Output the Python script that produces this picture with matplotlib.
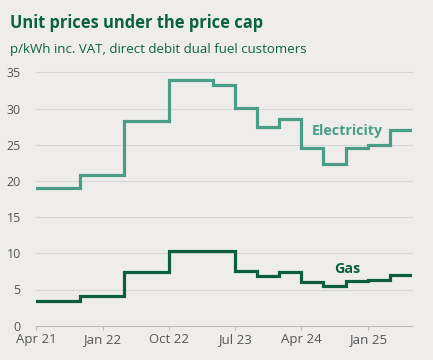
import matplotlib
matplotlib.use("Agg")
import matplotlib.pyplot as plt
import matplotlib.dates as mdates
import numpy as np
import datetime as dt

dates = ["2021-04-01", "2021-10-01", "2022-04-01", "2022-10-01", "2023-04-01",
         "2023-07-01", "2023-10-01", "2024-01-01", "2024-04-01", "2024-07-01",
         "2024-10-01", "2024-12-31", "2025-04-01"]
end_date = "2025-07-01"
electricity = [19.0, 20.8, 28.3, 34.0, 33.2, 30.1, 27.4, 28.6, 24.5, 22.4, 24.5, 24.9, 27.0]
gas = [3.4, 4.1, 7.4, 10.3, 10.3, 7.5, 6.9, 7.4, 6.0, 5.5, 6.2, 6.3, 7.0]
tick_dates = ["2021-04-01", "2022-01-01", "2022-10-01", "2023-07-01", "2024-04-01", "2025-01-01"]
tick_labels = ["Apr 21", "Jan 22", "Oct 22", "Jul 23", "Apr 24", "Jan 25"]
yticks = [0, 5, 10, 15, 20, 25, 30, 35]

bg = "#efedeb"
elec_c = "#4a9e88"
gas_c = "#0b5f3e"
title_c = "#0b6241"
text_c = "#555555"
grid_c = "#d9d7d5"

def d(s):
    return dt.datetime.strptime(s, "%Y-%m-%d")

xs = [d(s) for s in dates] + [d(end_date)]
ev = electricity + [electricity[-1]]
gv = gas + [gas[-1]]

fig = plt.figure(figsize=(4.33, 3.6), dpi=100, facecolor=bg)
W, H = 433, 360
left, right, bottom, top = 36, 411.7, 325.7, 72.3
ax = fig.add_axes([left / W, (H - bottom) / H, (right - left) / W, (bottom - top) / H])
ax.set_facecolor(bg)

ax.step(xs, ev, where="post", color=elec_c, lw=2.3, solid_joinstyle="miter", zorder=3)
ax.step(xs, gv, where="post", color=gas_c, lw=2.3, solid_joinstyle="miter", zorder=3)

ax.set_xlim(d("2021-04-01"), d(end_date))
ax.set_ylim(0, 35)
ax.set_yticks(yticks)
ax.set_yticklabels([str(v) for v in yticks])
ax.set_xticks([d(s) for s in tick_dates])
ax.set_xticklabels(tick_labels)

for v in yticks[1:]:
    ax.axhline(v, color=grid_c, lw=0.8, zorder=1, clip_on=False)

for s in ["top", "right", "left"]:
    ax.spines[s].set_visible(False)
ax.spines["bottom"].set_color("#bdbbb9")
ax.spines["bottom"].set_linewidth(0.8)
ax.tick_params(axis="y", length=0, pad=11, labelsize=9, labelcolor=text_c)
ax.tick_params(axis="x", length=3, width=0.8, color="#bdbbb9", pad=2.5, labelsize=9.5, labelcolor=text_c)
for lab in ax.get_xticklabels() + ax.get_yticklabels():
    lab.set_fontfamily("Open Sans")

ax.text(d("2024-05-15"), 26.9, "Electricity", color=elec_c, fontsize=10.3, fontweight="bold",
        fontfamily="Open Sans", ha="left", va="center")
ax.text(d("2024-08-15"), 7.9, "Gas", color=gas_c, fontsize=10.3, fontweight="bold",
        fontfamily="Open Sans", ha="left", va="center")

fig.text(10 / W, 1 - 23 / H, "Unit prices under the price cap", color=title_c, fontsize=11.9,
         fontweight="bold", fontfamily="Open Sans", ha="left", va="center")
fig.text(10 / W, 1 - 50 / H, "p/kWh inc. VAT, direct debit dual fuel customers", color=title_c,
         fontsize=9.5, fontfamily="Open Sans", ha="left", va="center")

fig.savefig("out.png", dpi=100, facecolor=bg)
